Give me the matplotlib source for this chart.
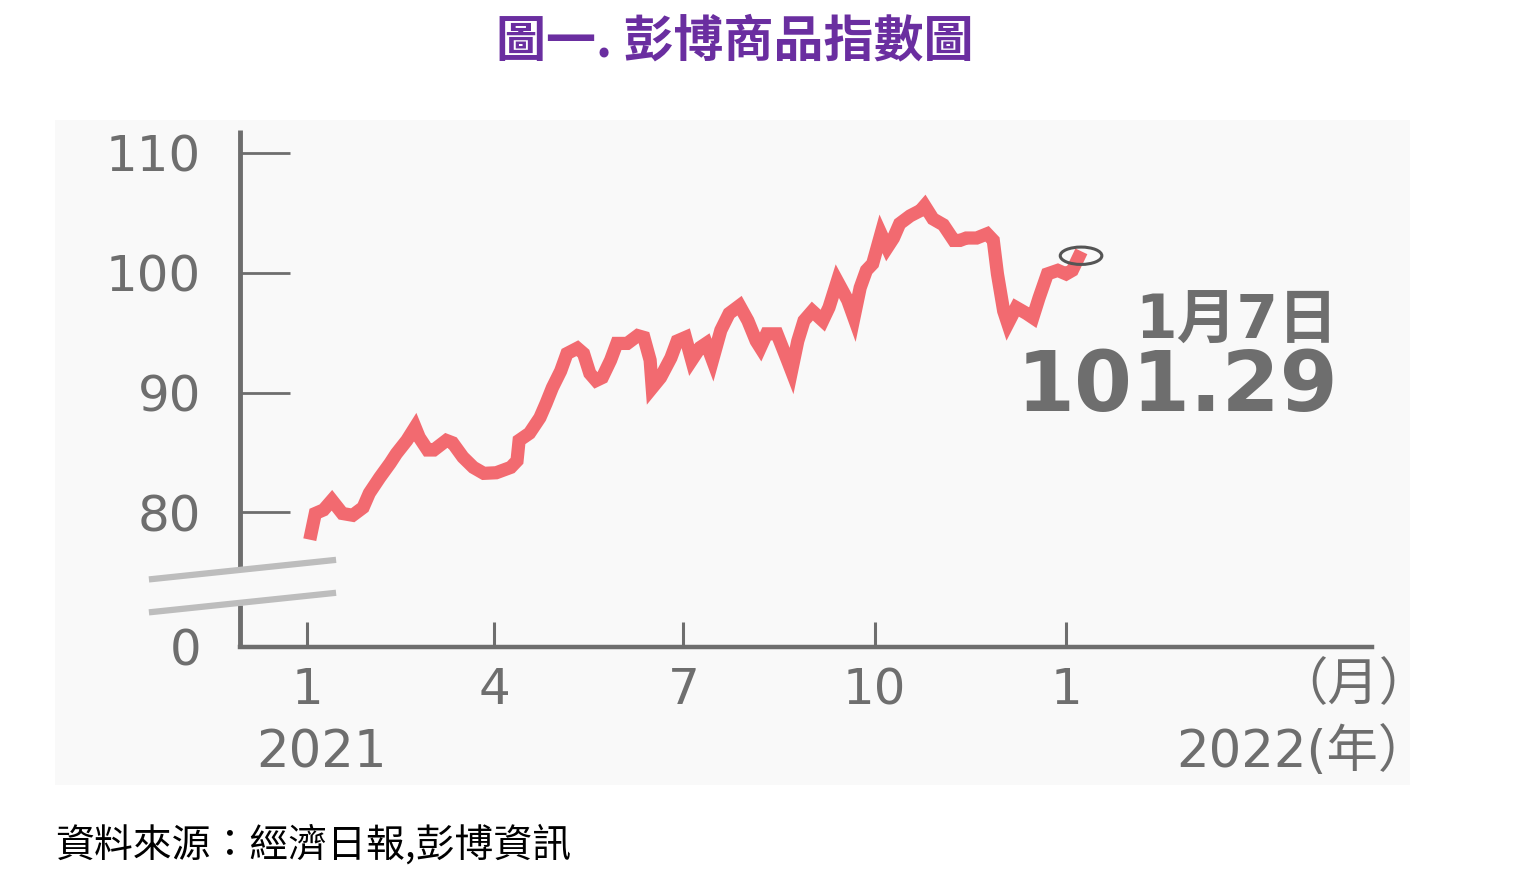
# Bloomberg commodity index chart (2021-01 .. 2022-01-07)
import numpy as np
import matplotlib
matplotlib.use('Agg')
import matplotlib.pyplot as plt
from matplotlib.patches import Rectangle, Ellipse

plt.rcParams['font.family'] = ['DejaVu Sans', 'Noto Sans CJK TC']

# day offset from 2021-01-01, index value
days = [2, 4, 8, 12, 17, 22, 27, 30, 35, 40, 43, 48, 52, 54, 58, 61, 67, 70, 75, 80,
        85, 91, 98, 101, 102, 107, 112, 115, 118, 122, 125, 130, 133, 136, 139, 142, 146, 149, 154, 159,
        162, 165, 166, 170, 175, 178, 182, 185, 189, 192, 195, 199, 203, 208, 212, 216, 218, 221, 226, 231,
        233, 236, 239, 243, 248, 251, 255, 260, 263, 266, 269, 272, 276, 279, 282, 285, 290, 295, 297, 301,
        306, 311, 314, 317, 322, 327, 330, 332, 335, 337, 341, 346, 349, 352, 356, 361, 365, 368, 371]
values = [78.25, 79.9, 80.2, 81.0, 79.9, 79.75, 80.4, 81.6, 82.9, 84.1, 84.9, 86.0, 87.1, 86.25, 85.2, 85.2, 86.0, 85.8, 84.6, 83.75,
          83.25, 83.3, 83.75, 84.3, 86.0, 86.6, 87.9, 89.1, 90.4, 91.8, 93.25, 93.7, 93.25, 91.6, 91.0, 91.25, 92.7, 94.1, 94.1, 94.75,
          94.6, 92.7, 90.4, 91.25, 92.9, 94.3, 94.6, 92.7, 93.75, 94.1, 92.7, 95.2, 96.6, 97.25, 96.0, 94.3, 93.75, 94.9, 94.9, 92.7,
          91.8, 94.3, 96.0, 96.8, 96.0, 97.1, 99.3, 97.7, 96.25, 98.75, 100.2, 100.75, 103.25, 102.1, 102.9, 104.1, 104.75, 105.2, 105.6, 104.5,
          104.0, 102.7, 102.7, 102.9, 102.9, 103.25, 102.7, 99.9, 96.8, 95.75, 97.1, 96.6, 96.25, 97.9, 99.9, 100.2, 99.9, 100.2, 101.29]

xtick_pos = [0, 90, 181, 273, 365]
xtick_labels = ['1', '4', '7', '10', '1']
ytick_pos = [68.75, 80, 90, 100, 110]
ytick_labels = ['0', '80', '90', '100', '110']

gray = '#6e6e6e'
W, H = 1536, 891
fx = lambda px: px / W
fy = lambda py: 1 - py / H

fig = plt.figure(figsize=(15.36, 8.91), dpi=100)
fig.patch.set_facecolor('white')
fig.add_artist(Rectangle((fx(55), fy(785)), fx(1410) - fx(55), fy(120) - fy(785),
                         transform=fig.transFigure, facecolor='#f9f9f9', edgecolor='none', zorder=0))

ax = fig.add_axes([fx(240), fy(647), fx(1372) - fx(240), fy(130) - fy(647)])
ax.set_facecolor('none')
x0, x1 = -32.2, 512.1
ax.set_xlim(x0, x1)
ax.set_ylim(68.75, 111.92)

ax.plot(days, values, color='#f26a70', lw=9.5, solid_joinstyle='miter', zorder=3)
ax.add_patch(Ellipse((372.2, 101.42), 20, 1.45, fill=False, edgecolor='#555555', lw=2.2, zorder=4))

for s in ['top', 'right', 'left']:
    ax.spines[s].set_visible(False)
ax.spines['bottom'].set_color(gray)
ax.spines['bottom'].set_linewidth(3.2)

# broken y axis
ax.plot([x0, x0], [75.42, 111.92], color=gray, lw=3.5, clip_on=False, solid_capstyle='butt')
ax.plot([x0, x0], [68.75, 72.25], color=gray, lw=3.5, clip_on=False, solid_capstyle='butt')
ax.plot([-74.5, 12.5], [74.42, 76.0], color='#bdbdbd', lw=4.5, clip_on=False)
ax.plot([-74.5, 12.5], [71.67, 73.25], color='#bdbdbd', lw=4.5, clip_on=False)

ax.set_yticks(ytick_pos)
ax.set_yticklabels(ytick_labels)
ax.set_xticks(xtick_pos)
ax.set_xticklabels(xtick_labels)
ax.tick_params(axis='y', direction='in', length=36, width=2, color=gray, labelcolor=gray,
               labelsize=36, pad=28)
ax.tick_params(axis='x', direction='in', length=18, width=2.2, color=gray, labelcolor=gray,
               labelsize=36, pad=14)

# texts
fig.text(fx(735), fy(42), '圖一. 彭博商品指數圖', ha='center', va='center', fontsize=36,
         fontweight='bold', color='#6a2ea0', family=['Noto Sans CJK TC'])
fig.text(fx(55), fy(845), '資料來源：經濟日報,彭博資訊', ha='left', va='center', fontsize=28,
         fontweight='medium', color='black', family=['Noto Sans CJK TC'])
fig.text(fx(1237), fy(322), '1月7日', ha='center', va='center', fontsize=43, fontweight='bold', color=gray)
fig.text(fx(1177), fy(387), '101.29', ha='center', va='center', fontsize=60, fontweight='bold', color=gray)
fig.text(fx(1430), fy(686), '（月）', ha='right', va='center', fontsize=37, color=gray)
fig.text(fx(1430), fy(753), '2022(年）', ha='right', va='center', fontsize=37, color=gray)
fig.text(fx(322), fy(753), '2021', ha='center', va='center', fontsize=37, color=gray)

fig.savefig('out.png', dpi=100)
